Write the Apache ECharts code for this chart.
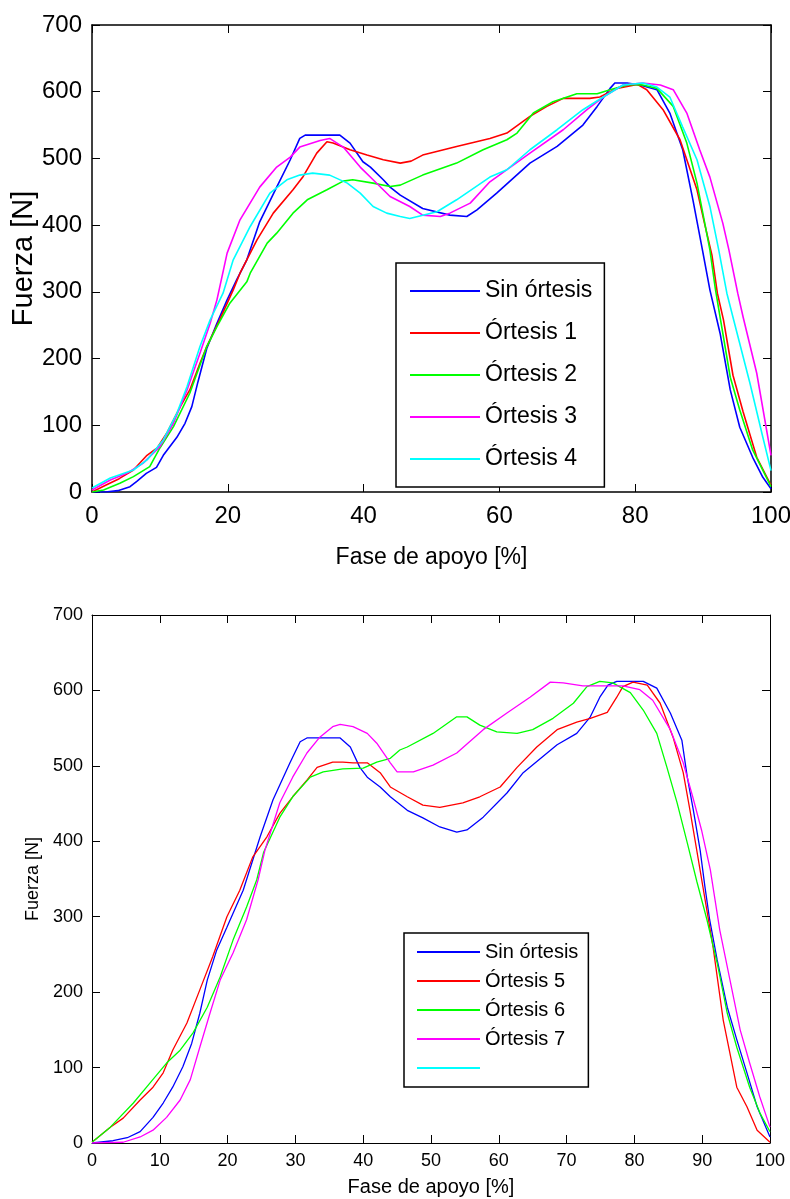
<!DOCTYPE html>
<html><head><meta charset="utf-8">
<script src="https://cdn.jsdelivr.net/npm/echarts@6/dist/echarts.min.js"></script>
<style>html,body{margin:0;padding:0;background:#fff}#c{width:790px;height:1199px}</style>
</head><body><div id="c"></div>
<script>
// ---------- DATA (x = Fase de apoyo [%], y = Fuerza [N]) ----------
const topNames = ['Sin órtesis', 'Órtesis 1', 'Órtesis 2', 'Órtesis 3', 'Órtesis 4'];
const botNames = ['Sin órtesis', 'Órtesis 5', 'Órtesis 6', 'Órtesis 7', ' '];

const topSin = [[0,0],[2,0],[3.8,2],[5.6,8],[6.6,16],[8,28],[9.5,37],[10.5,55],[12.5,82],[13.7,103],[14.7,128],[15.6,165],[16.9,215],[18.4,253],[19.9,288],[21.3,318],[22.8,348],[24.7,405],[27.2,457],[29.2,498],[30.6,530],[31.4,535],[36.5,535],[38,523],[39.9,495],[41,487],[42.9,468],[43.9,457],[45.4,445],[48.7,425],[52.7,415],[55.2,413],[56.7,423],[59.6,448],[64.5,493],[68.5,518],[72.3,550],[74.4,578],[76.3,605],[77,613],[78.8,613],[80.7,610],[83.2,603],[85.1,568],[87,513],[88.5,438],[89.9,363],[91,303],[92.5,238],[94,153],[95.4,97],[97.3,52],[98.8,22],[100,5]];
const topO1 = [[0,0],[2,10],[4,20],[6.1,33],[8.1,55],[9.6,66],[11,88],[13,128],[14.4,153],[15.9,193],[16.9,218],[18.8,258],[20.8,303],[21.8,328],[24.3,378],[26.7,418],[29.6,453],[31.1,473],[33.1,508],[34.6,525],[35.5,523],[38,513],[40.5,505],[42.9,498],[45.4,493],[47,496],[48.7,505],[53.7,518],[58.6,530],[61.1,538],[64.5,563],[67,578],[69.4,590],[73.3,590],[74.8,592],[77.3,605],[80.3,611],[81.7,603],[84.1,573],[86.6,528],[89.1,453],[90.2,403],[91.3,355],[92.1,298],[93,258],[94.4,175],[95.9,120],[97.9,52],[100,10]];
const topO2 = [[0,0],[1.7,3],[4.1,13],[6.1,23],[8.5,38],[10,66],[12,98],[14.4,148],[16.9,218],[18.4,248],[20.3,283],[22.8,315],[23.3,328],[25.8,373],[27.2,388],[29.6,418],[31.7,438],[34.6,453],[37,466],[38.4,468],[41.4,463],[43.9,458],[45.4,460],[48.7,475],[53.7,493],[57.6,513],[61.1,528],[62.6,538],[65,568],[67.9,585],[71.4,597],[74.4,597],[76.3,603],[79.2,611],[81.1,610],[83.2,605],[85.6,578],[87.6,523],[89.1,463],[90.3,400],[91,363],[91.8,305],[92.5,262],[94,172],[95.4,123],[97.3,63],[100,8]];
const topO3 = [[0,3],[2.7,18],[5.1,28],[7.5,43],[10,68],[12,103],[14,153],[15.9,208],[17.4,253],[18.4,288],[19.9,358],[21.8,408],[24.7,457],[27.2,487],[29.2,502],[30.6,517],[33.6,527],[35,530],[37,517],[39.5,487],[41.4,468],[43.9,443],[46.8,428],[48.7,415],[51.3,413],[52.7,418],[55.7,433],[58.6,465],[64.5,508],[69.4,543],[72.9,573],[75.3,592],[78.2,610],[81.1,613],[83.7,610],[85.6,603],[87.6,568],[89.5,513],[91,472],[92.9,403],[93.8,363],[95.1,298],[95.9,262],[97.9,178],[100,55]];
const topO4 = [[0,6],[2.7,21],[6.1,33],[8.1,48],[10.5,78],[12.5,118],[14,158],[15.9,218],[17.4,258],[19.3,298],[20.8,348],[23.3,398],[26.2,448],[28.7,468],[30.6,475],[32.5,478],[35,475],[37.6,463],[39.5,448],[41.4,428],[43.4,418],[45.4,413],[46.8,410],[50.8,420],[53.7,438],[58.6,472],[61.1,483],[64.5,513],[68.5,543],[72.3,573],[75.3,592],[78.2,610],[81.1,613],[83.2,607],[85.1,592],[87,547],[89.1,498],[91,428],[92.3,363],[93.5,298],[94.4,262],[96.9,163],[98.8,82],[100,32]];

const botSin = [[0,0],[3.1,3],[5.2,7],[7.1,15],[9,34],[10.5,53],[11.9,74],[13.4,101],[14.7,132],[15.9,172],[17,216],[18.4,256],[19.9,286],[22.3,335],[24.8,406],[26.7,455],[29.2,504],[30.7,532],[31.7,537],[36.6,537],[38.1,525],[39.5,498],[40.6,485],[42.5,472],[44,459],[46.5,441],[48.8,431],[51.3,419],[53.8,412],[55.3,415],[57.7,432],[61.2,464],[63.6,491],[68.6,528],[71.5,543],[73.5,565],[74.9,591],[76.1,607],[77.4,612],[81.3,612],[83.3,603],[85.3,570],[87,534],[87.8,485],[88.7,441],[89.7,388],[90.4,340],[91.1,296],[92.2,243],[93.7,180],[95.1,137],[96.6,93],[98.1,48],[100,8]];
const botO5 = [[0,1],[2.7,21],[4.6,33],[7.1,57],[9,74],[10.5,93],[11.9,123],[14,159],[15.9,203],[17.8,247],[19.9,300],[21.8,335],[23.7,379],[25.8,406],[27.7,437],[29.6,459],[31.7,481],[33.2,498],[35.5,505],[37,505],[38.5,504],[40.6,504],[42.5,491],[44,472],[46.5,459],[48.8,448],[51.3,445],[54.7,451],[57.2,459],[60.2,472],[62.7,498],[65.6,525],[68.6,548],[71.5,558],[73.5,563],[76,571],[77.4,591],[78.3,605],[79.8,611],[81.9,607],[83.8,583],[85.7,538],[87.2,491],[88.2,441],[89.2,388],[90.1,340],[91.6,260],[93.1,163],[95.1,74],[96.6,48],[98.1,17],[100,1]];
const botO6 = [[0,1],[2.7,21],[6.1,53],[8.6,80],[11,106],[13,123],[14.9,146],[17,180],[18.9,220],[20.8,269],[22.8,313],[24.3,349],[25.3,385],[27.7,432],[29.6,459],[32.2,485],[34.1,492],[37,496],[40,497],[42,505],[44,510],[45.4,521],[46.5,525],[50.3,543],[53.8,565],[55.3,565],[57.2,554],[59.7,545],[62.7,543],[65,548],[68,563],[71,583],[73,605],[74.9,612],[76.8,610],[79.4,597],[81.3,574],[83.3,543],[84.8,498],[86.3,451],[87.8,398],[89.2,347],[90.7,296],[92.2,239],[93.7,172],[95.1,127],[97,74],[98.5,40],[100,15]];
const botO7 = [[0,0],[4.6,1],[7.1,8],[9,17],[11,34],[13,57],[14.5,84],[15.9,127],[17.4,172],[18.9,216],[20.8,252],[22.8,296],[24.5,349],[25.5,388],[27.7,451],[29.6,485],[31.7,517],[33.6,538],[35.5,552],[36.6,555],[38.5,552],[40.6,543],[42,530],[44,504],[45,492],[47.4,492],[50.3,501],[53.8,517],[57.7,548],[61.2,570],[64.6,591],[67.6,611],[69.5,610],[72.4,606],[78.3,606],[80.8,601],[82.7,587],[85.3,548],[87.2,504],[88.6,459],[89.9,415],[91.2,362],[92.6,282],[94.1,216],[95.6,150],[97,106],[98.5,61],[100,21]];
const botEmpty = [];

const colors = ['#0000ff', '#ff0000', '#00ff00', '#ff00ff', '#00ffff'];

// ---------- STYLE ----------
const REG = "'Liberation Sans', Arial, sans-serif";

function xPair(grid, interval, fs, nameFs, nameGap, margin, w) {
  const common = {
    type: 'value', gridIndex: grid, min: 0, max: 100, interval: interval,
    axisLine: { show: true, onZero: false, lineStyle: { color: '#000', width: w } },
    axisTick: { show: true, inside: true, length: 8, lineStyle: { color: '#000', width: 1 } },
    splitLine: { show: false }
  };
  return [
    Object.assign({}, common, {
      position: 'bottom', name: 'Fase de apoyo [%]', nameLocation: 'middle', nameGap: nameGap,
      nameMoveOverlap: false,
      nameTextStyle: { fontSize: nameFs, fontFamily: REG, color: '#000' },
      axisLabel: { show: true, margin: margin, fontSize: fs, fontFamily: REG, color: '#000' }
    }),
    Object.assign({}, common, { position: 'top', axisLabel: { show: false } })
  ];
}
function yPair(grid, fs, nameFs, nameGap, margin, w) {
  const common = {
    type: 'value', gridIndex: grid, min: 0, max: 700, interval: 100,
    axisLine: { show: true, onZero: false, lineStyle: { color: '#000', width: w } },
    axisTick: { show: true, inside: true, length: 8, lineStyle: { color: '#000', width: 1 } },
    splitLine: { show: false }
  };
  return [
    Object.assign({}, common, {
      position: 'left', name: 'Fuerza [N]', nameLocation: 'middle', nameGap: nameGap,
      nameMoveOverlap: false,
      nameTextStyle: { fontSize: nameFs, fontFamily: REG, color: '#000' },
      axisLabel: { show: true, margin: margin, fontSize: fs, fontFamily: REG, color: '#000' }
    }),
    Object.assign({}, common, { position: 'right', axisLabel: { show: false } })
  ];
}

const xAxes = xPair(0, 20, 24, 23, 54, 12, 1.5).concat(xPair(1, 10, 18, 20, 34, 9, 1));
const yAxes = yPair(0, 24, 29, 54, 10, 1.5).concat(yPair(1, 18, 18, 50, 9, 1));

function mk(name, data, color, xi, yi, w) {
  return { type: 'line', name: name, data: data, xAxisIndex: xi, yAxisIndex: yi,
    symbol: 'none', showSymbol: false, smooth: false, color: color,
    lineStyle: { color: color, width: w }, itemStyle: { color: color }, clip: true };
}

const topData = [topSin, topO1, topO2, topO3, topO4];
const botData = [botSin, botO5, botO6, botO7, botEmpty];
const series = [];
topData.forEach((d, i) => series.push(mk(topNames[i], d, colors[i], 0, 0, 1.6)));
botData.forEach((d, i) => series.push(mk(botNames[i], d, colors[i], 2, 2, 1.3)));

const chart = echarts.init(document.getElementById('c'), null, { renderer: 'canvas' });
chart.setOption({
  animation: false,
  backgroundColor: '#fff',
  grid: [
    { left: 92, top: 25, width: 679, height: 467, containLabel: false, outerBoundsMode: 'none' },
    { left: 92, top: 615, width: 678, height: 528, containLabel: false, outerBoundsMode: 'none' }
  ],
  xAxis: xAxes,
  yAxis: yAxes,
  legend: [
    {
      data: topNames, orient: 'vertical', left: 396, top: 263,
      padding: [13, 12, 13, 14], itemGap: 12, itemWidth: 70, itemHeight: 2, icon: 'rect',
      textStyle: { fontSize: 23, fontFamily: REG, lineHeight: 30, color: '#000' },
      borderColor: '#000', borderWidth: 1.5, backgroundColor: '#fff', selectedMode: false
    },
    {
      data: botNames, orient: 'vertical', left: 404, top: 933,
      padding: [8, 10, 8, 13], itemGap: 7, itemWidth: 63, itemHeight: 2, icon: 'rect',
      textStyle: { fontSize: 20, fontFamily: REG, lineHeight: 22, color: '#000' },
      borderColor: '#000', borderWidth: 1.5, backgroundColor: '#fff', selectedMode: false
    }
  ],
  series: series
});
</script></body></html>
